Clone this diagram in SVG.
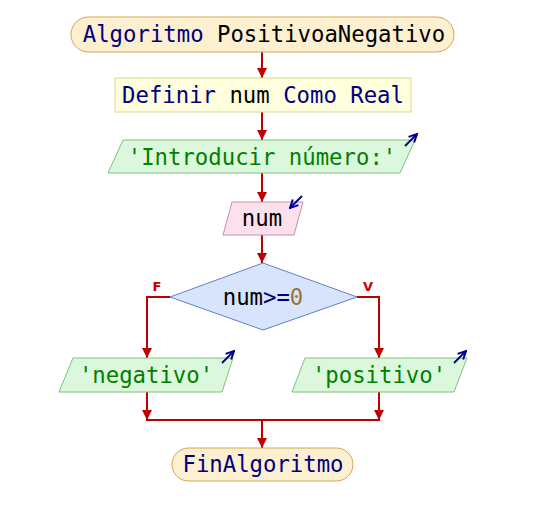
<svg xmlns="http://www.w3.org/2000/svg" width="550" height="517" viewBox="0 0 550 517">
<style>
text{font-family:"DejaVu Sans Mono","Liberation Mono",monospace;font-size:22.3px;text-anchor:middle;dominant-baseline:central}
.kw{fill:#000080}
.id{fill:#000000}
.str{fill:#008000}
.num{fill:#a07030}
.term{fill:#fdf0d0;stroke:#d0a850;stroke-width:1}
.proc{fill:#ffffdd;stroke:#d8d890;stroke-width:1}
.io{fill:#dcf8dc;stroke:#80c080;stroke-width:1}
.inp{fill:#fce0ec;stroke:#c890b0;stroke-width:1}
.dec{fill:#d8e4fc;stroke:#6080c8;stroke-width:1}
.edge{fill:none;stroke:#c00000;stroke-width:2}
.lbl{font-family:"DejaVu Sans","Liberation Sans",sans-serif;font-size:13px;font-weight:bold;fill:#c00000}
.ico{fill:none;stroke:#000090;stroke-width:2}
</style>
<defs>
<marker id="ah" viewBox="0 0 10 10" refX="10" refY="5" markerWidth="5" markerHeight="5" orient="auto" markerUnits="strokeWidth">
<path d="M0,0 L10,5 L0,10 z" fill="#c00000"/>
</marker>
<marker id="ih" viewBox="0 0 10 10" refX="9" refY="5" markerWidth="5" markerHeight="5" orient="auto" markerUnits="strokeWidth">
<path d="M1,1 L9,5 L1,9" fill="none" stroke="#000090" stroke-width="2"/>
</marker>
</defs>
<g id="connectors">
<line class="edge" x1="262" y1="52" x2="262" y2="78" marker-end="url(#ah)"/>
<line class="edge" x1="262" y1="112" x2="262" y2="140" marker-end="url(#ah)"/>
<line class="edge" x1="262" y1="173" x2="262" y2="202" marker-end="url(#ah)"/>
<line class="edge" x1="262" y1="235" x2="262" y2="263" marker-end="url(#ah)"/>
<polyline class="edge" points="170,297 147,297 147,358" marker-end="url(#ah)"/>
<polyline class="edge" points="357,297 379,297 379,358" marker-end="url(#ah)"/>
<line class="edge" x1="147" y1="392" x2="147" y2="420" marker-end="url(#ah)"/>
<line class="edge" x1="379" y1="392" x2="379" y2="420" marker-end="url(#ah)"/>
<line class="edge" x1="146" y1="420" x2="380" y2="420"/>
<line class="edge" x1="262" y1="420" x2="262" y2="448" marker-end="url(#ah)"/>
<text class="lbl" x="157" y="286">F</text>
<text class="lbl" x="368" y="286">V</text>
</g>
<g id="start">
<rect class="term" x="71" y="17" width="383" height="35" rx="17.5"/>
<text x="264" y="34"><tspan class="kw">Algoritmo </tspan><tspan class="id">PositivoaNegativo</tspan></text>
</g>
<g id="define">
<rect class="proc" x="115" y="78" width="296" height="34"/>
<text x="263" y="95"><tspan class="kw">Definir </tspan><tspan class="id">num</tspan><tspan class="kw"> Como Real</tspan></text>
</g>
<g id="write1">
<polygon class="io" points="123,140 415,140 400,173 108,173"/>
<text class="str" x="262" y="157">'Introducir número:'</text>
<line class="ico" x1="405" y1="146" x2="417" y2="134" marker-end="url(#ih)"/>
</g>
<g id="read">
<polygon class="inp" points="232,202 303,202 294,235 223,235"/>
<text class="id" x="262" y="218">num</text>
<line class="ico" x1="302" y1="196" x2="290" y2="208" marker-end="url(#ih)"/>
</g>
<g id="decision">
<polygon class="dec" points="263,263 357,297 263,330 170,297"/>
<text x="263" y="297"><tspan class="id">num</tspan><tspan class="kw">&gt;=</tspan><tspan class="num">0</tspan></text>
</g>
<g id="write_neg">
<polygon class="io" points="73,358 233,358 222,392 59,392"/>
<text class="str" x="146" y="375">'negativo'</text>
<line class="ico" x1="222" y1="363" x2="234" y2="351" marker-end="url(#ih)"/>
</g>
<g id="write_pos">
<polygon class="io" points="305,358 467,358 454,392 292,392"/>
<text class="str" x="379" y="375">'positivo'</text>
<line class="ico" x1="454" y1="363" x2="466" y2="351" marker-end="url(#ih)"/>
</g>
<g id="end">
<rect class="term" x="172" y="448" width="181" height="33" rx="16.5"/>
<text class="kw" x="263" y="464">FinAlgoritmo</text>
</g>
</svg>
